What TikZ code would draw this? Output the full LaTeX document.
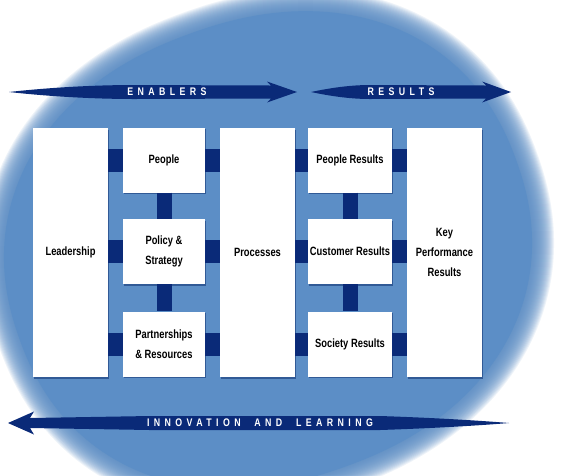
\documentclass[tikz,border=0pt]{standalone}
\usepackage{fontspec}
\setmainfont{Liberation Sans}
\newfontfamily\boxfont[FakeStretch=0.78]{Liberation Sans}
\newfontfamily\arrowfont[FakeStretch=0.8,LetterSpace=40]{Liberation Sans}
\usetikzlibrary{shadows}
\definecolor{bgblue}{RGB}{92,142,198}
\definecolor{navy}{RGB}{10,42,120}
\definecolor{shblue}{RGB}{45,85,145}
\def\blobpath{plot[domain=1:361,samples=181] ({268+264*cos(\x)*abs(cos(\x))^(-0.09)},{250+230*sin(\x)*abs(sin(\x))^(-0.09)}) -- cycle}
\begin{document}
\begin{tikzpicture}[x=1pt,y=-1pt,
  box/.style={fill=white, inner sep=2pt, align=center, text=black,
    font=\boxfont\bfseries\fontsize{12}{20}\selectfont,
    drop shadow={shadow xshift=1pt, shadow yshift=-1.5pt, fill=shblue, opacity=0.9}},
  tallbox/.style={box, minimum width=75pt, minimum height=249pt},
  smallbox/.style={box, minimum height=65pt},
  hconn/.style={navy, line width=23pt},
  vconn/.style={navy, line width=15pt},
  bannertext/.style={text=white, inner sep=0pt, font=\arrowfont\bfseries\fontsize{11}{11}\selectfont}
]
\useasboundingbox (0,0) rectangle (561,475);
\clip (0,0) rectangle (561,475);
\fill[white] (0,0) rectangle (561,475);
% soft blue blob
\begin{scope}[rotate around={20:(268,250)}]
  \foreach \w in {2,4,...,44}
    \draw[bgblue, opacity=0.1, line width=\w pt, line join=round] \blobpath;
  \fill[bgblue] \blobpath;
\end{scope}

% banners
\fill[navy] (9,92) .. controls (45,88) and (90,85) .. (135,85) -- (271,85.5) -- (267,81.5) -- (297,92) -- (267,102.5) -- (271,98.5) -- (135,99) .. controls (90,99) and (45,96) .. (9,92) -- cycle;
\fill[navy] (311,92) .. controls (330,88) and (350,85) .. (370,85) -- (486,85.5) -- (482,81.5) -- (511,92) -- (482,102.5) -- (486,98.5) -- (370,99) .. controls (350,99) and (330,96) .. (311,92) -- cycle;
\fill[navy] (8,423) -- (34,411.5) -- (30,418) -- (150,416) -- (380,416) .. controls (440,418) and (485,421) .. (509,423) .. controls (485,425) and (440,428) .. (380,430) -- (150,430) -- (30,428) -- (34,434.5) -- cycle;
\node[bannertext] (enab) at (167,92) {ENABLERS};
\node[bannertext] (resu) at (401,92) {RESULTS};
\node[bannertext] (innov) at (260,423) {INNOVATION\hspace{7pt} AND\hspace{7pt} LEARNING};

% boxes
\node[tallbox] (lead) at (70.5,252.5) {Leadership};
\node[smallbox, minimum width=82pt] (people) at (164,160) {People};
\node[smallbox, minimum width=82pt] (policy) at (164,251.5) {Policy \&\\Strategy};
\node[smallbox, minimum width=82pt] (partners) at (164,344) {Partnerships\\\& Resources};
\node[tallbox] (proc) at (257.5,252.5) {Processes};
\node[smallbox, minimum width=84pt] (pres) at (350,160) {People Results};
\node[smallbox, minimum width=84pt] (cres) at (350,251.5) {Customer Results};
\node[smallbox, minimum width=84pt] (sres) at (350,344) {Society Results};
\node[tallbox] (kpr) at (444.5,252.5) {Key\\Performance\\Results};

% connectors
\foreach \n in {people,policy,partners}{
  \draw[hconn] (lead.east |- \n) -- (\n.west);
  \draw[hconn] (\n.east) -- (proc.west |- \n);
}
\foreach \n in {pres,cres,sres}{
  \draw[hconn] (proc.east |- \n) -- (\n.west);
  \draw[hconn] (\n.east) -- (kpr.west |- \n);
}
\draw[vconn] (people.south) -- (policy.north);
\draw[vconn] (policy.south) -- (partners.north);
\draw[vconn] (pres.south) -- (cres.north);
\draw[vconn] (cres.south) -- (sres.north);
\end{tikzpicture}
\end{document}
